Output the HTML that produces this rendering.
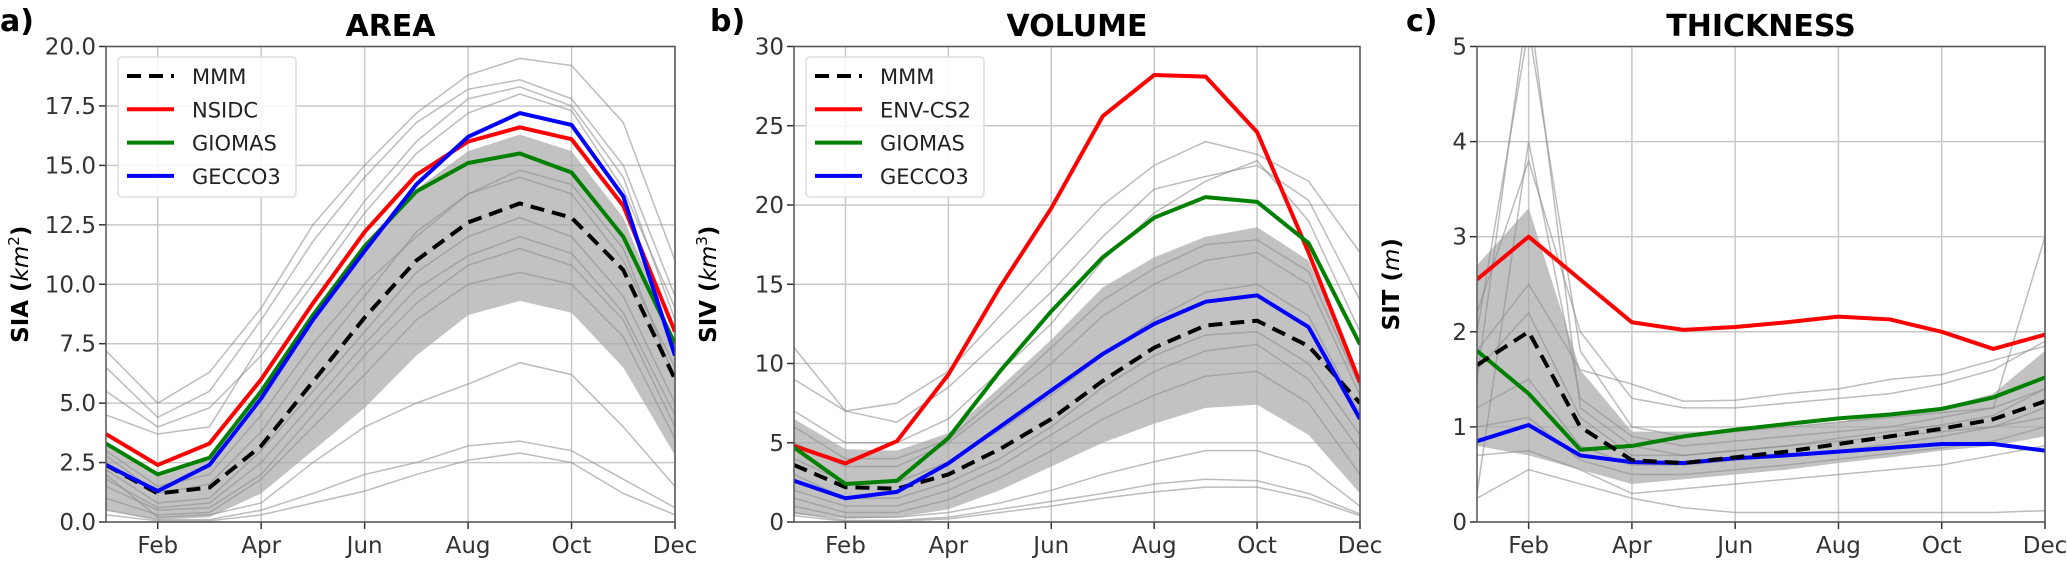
<!DOCTYPE html>
<html><head><meta charset="utf-8"><style>
body{margin:0;background:#fff;}
svg{display:block;font-family:"DejaVu Sans","Liberation Sans",sans-serif;}
</style></head><body>
<svg id="chart" width="2067" height="561" viewBox="0 0 2067 561" xmlns="http://www.w3.org/2000/svg"></svg>
<script>
const months = ["Jan","Feb","Mar","Apr","May","Jun","Jul","Aug","Sep","Oct","Nov","Dec"];
const tickMonths = ["Feb","Apr","Jun","Aug","Oct","Dec"];
// Panel a: AREA
const areaTicks = [0,2.5,5,7.5,10,12.5,15,17.5,20];
const areaMMM = [2.4,1.2,1.45,3.2,5.9,8.6,11.0,12.6,13.4,12.8,10.6,6.0];
const areaNSIDC = [3.7,2.4,3.3,6.0,9.2,12.2,14.6,16.0,16.6,16.1,13.3,8.0];
const areaGIOMAS = [3.3,2.0,2.7,5.5,8.7,11.6,13.9,15.1,15.5,14.7,12.0,7.5];
const areaGECCO3 = [2.4,1.3,2.4,5.2,8.5,11.4,14.2,16.2,17.2,16.7,13.7,7.0];
const areaBandLow = [0.5,0.1,0.2,1.2,3.0,4.8,7.0,8.7,9.3,8.8,6.5,2.8];
const areaBandHigh = [3.2,1.9,2.6,5.2,8.6,11.6,14.0,15.6,16.3,15.6,12.8,7.6];
const areaMembers = [
 [7.2,5.0,6.3,9.0,12.5,15.0,17.2,18.8,19.5,19.2,16.8,11.0],
 [6.5,4.4,5.5,8.5,11.8,14.5,16.8,18.2,18.6,17.8,15.0,9.5],
 [4.5,3.7,4.0,7.5,10.5,13.5,16.0,17.8,18.3,17.5,14.5,8.5],
 [2.0,0.2,0.3,0.8,2.5,4.0,5.0,5.8,6.7,6.2,4.0,1.5],
 [0.5,0.1,0.1,0.5,1.2,2.0,2.5,3.2,3.4,3.0,1.8,0.6],
 [0.3,0.05,0.05,0.3,0.8,1.3,2.0,2.6,2.9,2.5,1.2,0.3],
 [1.5,0.5,0.6,2.0,4.5,7.0,9.2,10.8,11.5,10.8,8.5,4.0],
 [3.0,1.5,2.0,4.5,7.5,10.0,12.0,13.8,14.5,13.8,11.0,6.5],
 [5.5,4.0,4.8,7.0,10.0,13.0,15.5,17.2,18.0,17.3,14.0,9.0],
 [2.2,0.8,1.0,3.0,5.5,8.0,10.5,12.0,12.8,12.0,9.5,5.0],
 [1.8,0.6,0.8,2.5,5.0,7.5,9.8,11.2,12.0,11.3,8.8,4.5],
 [2.8,1.2,1.6,3.8,6.8,9.5,12.2,13.8,14.8,14.2,11.5,6.0],
 [1.0,0.3,0.4,1.8,4.0,6.2,8.5,10.0,10.5,10.0,7.8,3.5]
];
// Panel b: VOLUME
const volTicks = [0,5,10,15,20,25,30];
const volMMM = [3.6,2.2,2.1,3.0,4.6,6.5,8.9,11.0,12.4,12.7,11.1,7.5];
const volENV = [4.8,3.7,5.1,9.3,14.8,19.8,25.6,28.2,28.1,24.6,17.0,8.8];
const volGIOMAS = [4.7,2.4,2.6,5.3,9.5,13.3,16.7,19.2,20.5,20.2,17.6,11.2];
const volGECCO3 = [2.6,1.5,1.9,3.7,6.0,8.3,10.6,12.5,13.9,14.3,12.3,6.5];
const volBandLow = [0.5,0.2,0.3,0.8,2.0,3.5,5.0,6.2,7.2,7.4,5.5,1.8];
const volBandHigh = [6.5,4.6,4.5,5.6,8.5,11.5,14.8,16.7,18.0,18.6,16.5,9.0];
const volMembers = [
 [11.0,7.0,7.5,9.5,13.0,16.5,20.0,22.5,24.0,23.2,21.5,17.0],
 [9.0,7.0,6.3,8.5,11.5,14.5,18.0,21.0,21.8,22.5,20.3,14.0],
 [7.0,5.0,5.0,6.5,9.5,12.5,16.5,19.5,21.5,22.8,19.0,12.0],
 [1.0,0.3,0.3,0.6,1.2,2.0,3.0,3.8,4.5,4.5,3.5,1.0],
 [0.6,0.1,0.1,0.3,0.8,1.3,1.8,2.4,2.7,2.6,1.8,0.5],
 [0.4,0.05,0.05,0.2,0.6,1.0,1.5,1.9,2.2,2.2,1.5,0.4],
 [3.0,1.5,1.5,2.5,4.0,6.0,8.5,10.5,11.8,12.0,10.0,5.5],
 [5.0,3.5,3.5,5.0,7.5,10.0,13.0,15.0,16.5,17.0,15.0,8.0],
 [2.0,1.0,1.0,2.0,3.5,5.5,7.5,9.5,10.8,11.2,9.0,4.5],
 [4.0,2.5,2.5,3.8,5.8,8.0,10.5,12.8,14.5,15.0,13.0,6.8],
 [1.5,0.6,0.6,1.4,2.8,4.5,6.5,8.0,9.2,9.5,7.5,3.0],
 [6.0,4.0,4.0,5.2,8.0,11.0,14.0,16.0,17.5,17.8,15.8,8.5]
];
// Panel c: THICKNESS
const thkTicks = [0,1,2,3,4,5];
const thkMMM = [1.65,2.0,1.0,0.65,0.62,0.68,0.74,0.82,0.9,0.98,1.08,1.27];
const thkENV = [2.55,3.0,2.55,2.1,2.02,2.05,2.1,2.16,2.13,2.0,1.82,1.97];
const thkGIOMAS = [1.8,1.35,0.76,0.8,0.9,0.97,1.03,1.09,1.13,1.19,1.31,1.52];
const thkGECCO3 = [0.85,1.02,0.7,0.63,0.62,0.67,0.7,0.74,0.78,0.82,0.82,0.75];
const thkBandLow = [0.8,0.7,0.55,0.4,0.45,0.5,0.55,0.62,0.68,0.75,0.8,0.9];
const thkBandHigh = [2.7,3.3,1.6,0.95,0.95,0.95,1.0,1.05,1.15,1.2,1.35,1.8];
const thkMembers = [
 [1.5,5.5,1.2,0.8,0.7,0.75,0.8,0.85,0.9,0.95,1.0,1.1],
 [2.0,5.2,1.8,1.0,0.9,0.95,1.0,1.05,1.1,1.15,1.2,3.0],
 [0.3,4.0,1.3,0.9,0.8,0.85,0.9,0.95,1.0,1.1,1.2,1.4],
 [0.25,0.55,0.4,0.25,0.15,0.1,0.1,0.1,0.1,0.1,0.1,0.12],
 [1.8,2.5,1.6,1.45,1.27,1.28,1.35,1.4,1.5,1.55,1.7,1.85],
 [0.7,0.75,0.55,0.3,0.35,0.4,0.45,0.5,0.55,0.6,0.7,0.8],
 [2.2,3.8,2.0,1.3,1.2,1.2,1.25,1.3,1.35,1.45,1.6,1.9],
 [1.2,1.5,0.8,0.6,0.6,0.65,0.7,0.75,0.82,0.9,1.0,1.2],
 [1.6,2.2,1.1,0.7,0.7,0.75,0.8,0.88,0.95,1.02,1.12,1.4],
 [1.0,1.1,0.65,0.5,0.5,0.55,0.6,0.66,0.72,0.78,0.85,1.0]
];

const svg = document.getElementById('chart');
const NS = 'http://www.w3.org/2000/svg';
function mk(tag, attrs, parent){const e=document.createElementNS(NS,tag);for(const k in attrs)e.setAttribute(k,attrs[k]);(parent||svg).appendChild(e);return e;}

const plotTop = 46.5, plotBot = 522;
const panels = [
 {id:'area', x0:106, x1:675, ymax:20, ticks:areaTicks, fmt:v=>v.toFixed(1), title:'AREA', letter:'a)', letterX:0, ylab:'SIA', unit:'km', sup:'2',
  band:[areaBandLow,areaBandHigh], members:areaMembers,
  series:[['mmm',areaMMM,'#000',true,'MMM'],['nsidc',areaNSIDC,'#ff0000',false,'NSIDC'],['giomas',areaGIOMAS,'#008000',false,'GIOMAS'],['gecco3',areaGECCO3,'#0000ff',false,'GECCO3']],
  legend:true},
 {id:'volume', x0:794, x1:1360, ymax:30, ticks:volTicks, fmt:v=>String(v), title:'VOLUME', letter:'b)', letterX:710, ylab:'SIV', unit:'km', sup:'3',
  band:[volBandLow,volBandHigh], members:volMembers,
  series:[['mmm',volMMM,'#000',true,'MMM'],['env-cs2',volENV,'#ff0000',false,'ENV-CS2'],['giomas',volGIOMAS,'#008000',false,'GIOMAS'],['gecco3',volGECCO3,'#0000ff',false,'GECCO3']],
  legend:true},
 {id:'thickness', x0:1477, x1:2045, ymax:5, ticks:thkTicks, fmt:v=>String(v), title:'THICKNESS', letter:'c)', letterX:1406, ylab:'SIT', unit:'m', sup:'',
  band:[thkBandLow,thkBandHigh], members:thkMembers,
  series:[['env-cs2',thkENV,'#ff0000',false,'ENV-CS2'],['giomas',thkGIOMAS,'#008000',false,'GIOMAS'],['gecco3',thkGECCO3,'#0000ff',false,'GECCO3'],['mmm',thkMMM,'#000',true,'MMM']],
  legend:false}
];

panels.forEach(p=>{
  const xs = i => p.x0 + (p.x1-p.x0)*i/11;
  const ys = v => plotBot - (plotBot-plotTop)*Math.min(v,p.ymax*1.2)/p.ymax;
  const g = mk('g',{});
  
  
  const defs = mk('defs',{},g);
  const cp = mk('clipPath',{id:'clip-'+p.id},defs);
  mk('rect',{x:p.x0,y:plotTop,width:p.x1-p.x0,height:plotBot-plotTop},cp);
  p.ticks.forEach(t=>{
    const y=ys(t);
    const gl=mk('line',{x1:p.x0,x2:p.x1,y1:y,y2:y,stroke:'#c8c8c8','stroke-width':1.5},g);
    
    
    mk('line',{x1:p.x0-7,x2:p.x0,y1:y,y2:y,stroke:'#333','stroke-width':1.5},g);
    const tl=mk('text',{x:p.x0-10,y:y+8,'text-anchor':'end','font-size':23,fill:'#333'},g);
    tl.textContent=p.fmt(t);
    
    
  });
  tickMonths.forEach(m=>{
    const i=months.indexOf(m); const x=xs(i);
    const gl=mk('line',{x1:x,x2:x,y1:plotTop,y2:plotBot,stroke:'#c8c8c8','stroke-width':1.5},g);
    
    
    mk('line',{x1:x,x2:x,y1:plotBot,y2:plotBot+7,stroke:'#333','stroke-width':1.5},g);
    const tl=mk('text',{x:x,y:plotBot+31,'text-anchor':'middle','font-size':23,fill:'#333'},g);
    tl.textContent=m;
    
    
  });
  const pg = mk('g',{'clip-path':'url(#clip-'+p.id+')'},g);
  let d='';
  p.band[1].forEach((v,i)=>{d+=(i?'L':'M')+xs(i)+','+ys(v);});
  for(let i=11;i>=0;i--) d+='L'+xs(i)+','+ys(p.band[0][i]);
  const band=mk('path',{d:d+'Z',fill:'#a8a8a8','fill-opacity':0.7,stroke:'none'},pg);
  
  
  p.members.forEach(arr=>{
    const pts=arr.map((v,i)=>xs(i)+','+ys(v)).join(' ');
    const l=mk('polyline',{points:pts,fill:'none',stroke:'#909090','stroke-opacity':0.6,'stroke-width':1.5},pg);
    
    
  });
  p.series.forEach(s=>{
    const pts=s[1].map((v,i)=>xs(i)+','+ys(v)).join(' ');
    const a={points:pts,fill:'none',stroke:s[2],'stroke-width':4,'stroke-linejoin':'round'};
    if(s[3]) a['stroke-dasharray']='14,8';
    const l=mk('polyline',a,pg);
    
    
  });
  mk('rect',{x:p.x0,y:plotTop,width:p.x1-p.x0,height:plotBot-plotTop,fill:'none',stroke:'#555','stroke-width':1.5},g);
  const t=mk('text',{x:(p.x0+p.x1)/2,y:36,'text-anchor':'middle','font-size':30,'font-weight':'bold',fill:'#000'},g);
  t.textContent=p.title;
  
  
  const lt=mk('text',{x:p.letterX,y:31,'font-size':30,'font-weight':'bold',fill:'#000'},g);
  lt.textContent=p.letter;
  
  
  const yl=mk('text',{transform:'translate('+(p.x0-78)+','+((plotTop+plotBot)/2)+') rotate(-90)','text-anchor':'middle','font-size':23,'font-weight':'bold',fill:'#000'},g);
  
  
  const s1=mk('tspan',{},yl); s1.textContent=p.ylab+' (';
  const s2=mk('tspan',{'font-style':'italic','font-weight':'normal'},yl); s2.textContent=p.unit;
  if(p.sup){const s3=mk('tspan',{'font-size':15,dy:-9,'font-weight':'normal'},yl); s3.textContent=p.sup;}
  const s4=mk('tspan',{dy:p.sup?9:0},yl); s4.textContent=')';
  if(p.legend){
    const lx=p.x0+12, ly=57;
    const lg=mk('g',{},g);
    
    
    mk('rect',{x:lx,y:ly,width:178,height:140,rx:4,fill:'#fff','fill-opacity':0.85,stroke:'#ddd','stroke-width':1.5},lg);
    p.series.forEach((s,k)=>{
      const y=ly+19+k*33.3;
      const e=mk('g',{},lg);
      
      
      const a={x1:lx+9,x2:lx+56,y1:y,y2:y,stroke:s[2],'stroke-width':4};
      if(s[3]) a['stroke-dasharray']='14,8';
      mk('line',a,e);
      const tx=mk('text',{x:lx+74,y:y+8,'font-size':21,fill:'#222'},e); tx.textContent=s[4];
    });
  }
});
</script>
</body></html>
